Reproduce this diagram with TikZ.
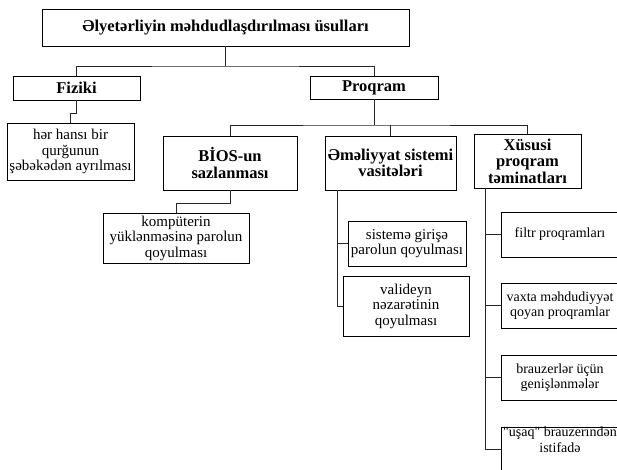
\documentclass[tikz,border=0pt]{standalone}
\usepackage{fontspec}
\setmainfont{Liberation Serif}
\begin{document}
\begin{tikzpicture}[x=1pt,y=-1pt,%%
  boxStyle/.style={draw,line width=0.8pt,align=center,inner sep=0pt,%%
    font=\fontsize{15}{15.5}\selectfont},%%
  headStyle/.style={boxStyle,font=\fontsize{16.5}{16.5}\selectfont\bfseries},%%
  leafStyle/.style={boxStyle,minimum width=118pt,minimum height=45pt,%%
    font=\fontsize{14}{15.5}\selectfont},%%
  lineStyle/.style={-,line width=0.7pt,draw=black!85}%%
]
%%
\useasboundingbox (0,0) rectangle (617,470);
\clip (0,0) rectangle (617,470);
%%
%% Offsets of the vertical bus lines.
\pgfmathsetmacro{\busx}{13}
\coordinate (topBus) at (0,66);
\coordinate (progBus) at (0,125);
%%
%% The root box.
\node[headStyle,minimum width=367pt,minimum height=37pt] (root) at (225.5,27.5)
  {Əlyetərliyin məhdudlaşdırılması üsulları};
%%
%% The two main groups.
\node[headStyle,minimum width=127pt,minimum height=24pt] (fiziki) at (76.5,88) {Fiziki};
\node[headStyle,minimum width=128pt,minimum height=23pt] (proqram) at (374,87.5) {Proqram};
%%
%% Physical way.
\node[boxStyle,minimum width=127pt,minimum height=57pt] (ayirma) at (70.5,151.5)
  {hər hansı bir\\qurğunun\\şəbəkədən ayrılması};
%%
%% Software ways.
\node[headStyle,minimum width=134pt,minimum height=54pt] (bios) at (230,163)
  {BİOS-un\\sazlanması};
\node[headStyle,minimum width=131pt,minimum height=54pt] (emsis) at (390.5,163)
  {Əməliyyat sistemi\\vasitələri};
\node[headStyle,minimum width=107pt,minimum height=54pt] (xusus) at (527.5,161)
  {Xüsusi\\proqram\\təminatları};
%%
%% Under BIOS.
\node[boxStyle,minimum width=146pt,minimum height=50pt] (yukle) at (176,238)
  {kompüterin\\yüklənməsinə parolun\\qoyulması};
%%
%% Under the operating system.
\node[boxStyle,minimum width=118pt,minimum height=45pt] (giris) at (407,243.5)
  {sistemə girişə\\parolun qoyulması};
\node[boxStyle,minimum width=126pt,minimum height=60pt] (valid) at (406,306)
  {valideyn\\nəzarətinin\\qoyulması};
%%
%% Under the special programs.
\node[leafStyle] (filtr) at (560,234.5) {filtr proqramları};
\node[leafStyle] (vaxta) at (560,305.5)
  {vaxta məhdudiyyət\\qoyan proqramlar};
\node[leafStyle] (genis) at (560,377.5)
  {brauzerlər üçün\\genişlənmələr};
\node[leafStyle] (usaq) at (560,449.5)
  {\textquotedbl uşaq\textquotedbl{} brauzerindən\\istifadə\\[4pt]};
%%
%% Root to the two groups.
\draw[lineStyle] (root.south) -- (root.south |- topBus);
\draw[lineStyle] (fiziki.north) |- (topBus -| root.south) -| (proqram.north);
%%
%% Physical group to its leaf, with a small jog.
\draw[lineStyle] (fiziki.south) -- ++(0,13) -| (ayirma.north);
%%
%% Program group to its three boxes.
\draw[lineStyle] (proqram.south) -- (proqram.south |- progBus);
\draw[lineStyle] (bios.north) |- (progBus -| proqram.south) -| (xusus.north);
\draw[lineStyle] (emsis.north) -- (emsis.north |- progBus);
%%
%% BIOS to its leaf.
\draw[lineStyle] (bios.south) -- ++(0,13) -| (yukle.north);
%%
%% Operating system bus.
\draw[lineStyle] ([xshift=\busx pt]emsis.south west) |- (giris.west);
\draw[lineStyle] ([xshift=\busx pt]emsis.south west) |- (valid.west);
%%
%% Special programs bus.
\foreach \leaf in {filtr,vaxta,genis,usaq}
  \draw[lineStyle] ([xshift=12pt]xusus.south west) |- (\leaf.west);
\end{tikzpicture}
\end{document}
